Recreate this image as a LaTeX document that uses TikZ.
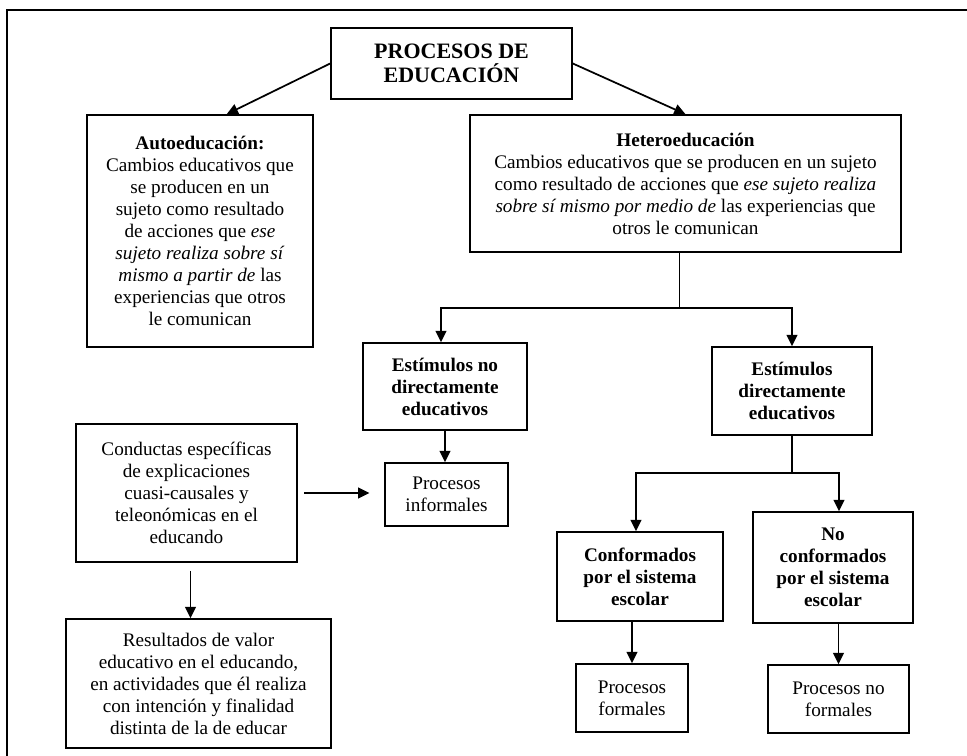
\documentclass[tikz,border=0pt]{standalone}
\usepackage{fontspec}
\setmainfont{Liberation Serif}
\usetikzlibrary{arrows.meta}

\begin{document}
\begin{tikzpicture}[
  x=0.75pt, y=-0.75pt,
  font=\fontsize{14.4}{16.5}\selectfont,
  caja/.style={draw, rectangle, align=center, line width=1.2pt, inner sep=1pt},
  negrita/.style={font=\fontsize{14.4}{16.5}\selectfont\bfseries},
  flecha/.style={-{Triangle[length=8.5pt, width=8pt]}, line width=1.3pt},
  marco/.style={line width=0.8pt}
]
\useasboundingbox (0,0) rectangle (967,756);
% Marco
\draw[marco] (7,756) -- (7,10) -- (967,10);

% Nivel 1: titulo
\node[caja, font=\fontsize{16.5}{18}\selectfont\bfseries, minimum width=180.75pt, minimum height=53.25pt] (proc) at (451.5,63.5) {PROCESOS DE\\EDUCACIÓN};

% Nivel 2: auto y hetero
\node[caja, minimum width=169.5pt, minimum height=174pt] (auto) at (200,231) {\textbf{Autoeducación:}\\Cambios educativos que\\se producen en un\\sujeto como resultado\\de acciones que \textit{ese}\\\textit{sujeto realiza sobre sí}\\\textit{mismo a partir de} las\\experiencias que otros\\le comunican};
\node[caja, minimum width=323.25pt, minimum height=102.75pt] (het) at (685.5,183.5) {\textbf{Heteroeducación}\\Cambios educativos que se producen en un sujeto\\como resultado de acciones que \textit{ese sujeto realiza}\\\textit{sobre sí mismo por medio de} las experiencias que\\otros le comunican};

% Nivel 3: estimulos
\node[caja, negrita, minimum width=123pt, minimum height=65.25pt] (eno) at (445,386.5) {Estímulos no\\directamente\\educativos};
\node[caja, negrita, minimum width=120pt, minimum height=66pt] (edi) at (792,391) {Estímulos\\directamente\\educativos};
\node[caja, minimum width=92.25pt, minimum height=47.25pt] (inf) at (446.5,494.5) {Procesos\\informales};

% Columna izquierda: conductas y resultados
\node[caja, minimum width=165.75pt, minimum height=103.5pt] (cond) at (186.5,493) {Conductas específicas\\de explicaciones\\cuasi-causales y\\teleonómicas en el\\educando};
\node[caja, minimum width=198.75pt, minimum height=96.75pt] (res) at (198.5,683.5) {Resultados de valor\\educativo en el educando,\\en actividades que él realiza\\con intención y finalidad\\distinta de la de educar};

% Nivel 4: sistema escolar
\node[caja, negrita, minimum width=124.5pt, minimum height=66.75pt] (conf) at (640,576.5) {Conformados\\por el sistema\\escolar};
\node[caja, negrita, minimum width=120pt, minimum height=83.25pt] (noconf) at (833,567.5) {No\\conformados\\por el sistema\\escolar};
\node[caja, minimum width=84pt, minimum height=51pt] (form) at (632,698) {Procesos\\formales};
\node[caja, minimum width=105.75pt, minimum height=51pt] (noform) at (838.5,699) {Procesos no\\formales};

\draw[flecha] (proc.west) -- ([xshift=20pt]auto.north);
\draw[flecha] (proc.east) -- (het.north);
\draw[flecha] ([xshift=-4.5pt]het.south) -- ++(0,55) -| ([xshift=-3pt]eno.north);
\draw[flecha] ([xshift=-4.5pt]het.south) -- ++(0,55) -| (edi.north);
\draw[flecha] (eno.south) -- (eno.south |- inf.north);
\draw[flecha, shorten <=5pt, shorten >=11pt] (cond.east) -- (cond.east -| inf.west);
\draw[flecha, shorten <=6pt] ([xshift=3pt]cond.south) -- ([xshift=3pt]cond.south |- res.north);
\draw[flecha] (edi.south) -- ++(0,37) -| ([xshift=-3pt]conf.north);
\draw[flecha] (edi.south) -- ++(0,37) -| ([xshift=4.5pt]noconf.north);
\draw[flecha] (form.north |- conf.south) -- (form.north);
\draw[flecha] (noform.north |- noconf.south) -- (noform.north);
\end{tikzpicture}
\end{document}
